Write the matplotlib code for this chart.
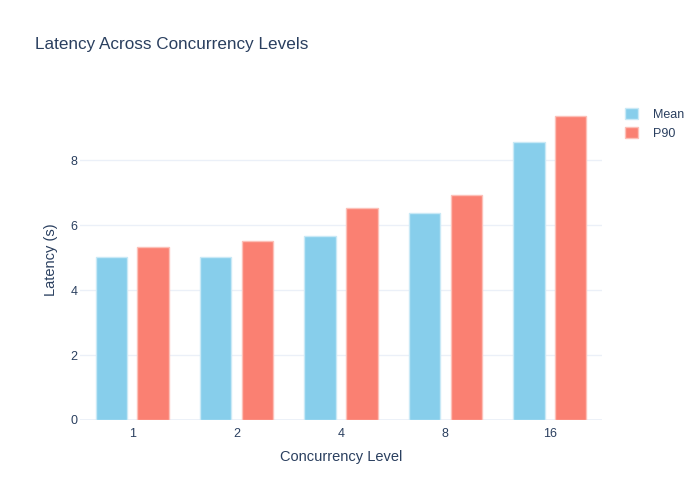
import matplotlib
matplotlib.use("Agg")
import matplotlib.pyplot as plt
import numpy as np

plt.rcParams['font.family'] = ['Liberation Sans', 'DejaVu Sans']

categories = ["1", "2", "4", "8", "16"]
mean_vals = [5.02, 5.03, 5.67, 6.38, 8.55]
p90_vals = [5.32, 5.50, 6.53, 6.93, 9.36]
series_names = ["Mean", "P90"]
y_ticks = [0, 2, 4, 6, 8]

text_color = "#2a3f5f"
grid_color = "#ebf0f8"
c_mean = "#87CEEB"
c_p90 = "#FA8072"
e_mean = "#c9e9f6"
e_p90 = "#fcc0b8"

fig = plt.figure(figsize=(7, 5), dpi=100)
ax = fig.add_axes([80/700, 80/500, 522/700, 320/500])

x = np.arange(len(categories))
w = 0.3
ax.bar(x - 0.2, mean_vals, width=w, color=c_mean, edgecolor=e_mean, linewidth=1, label=series_names[0], zorder=3)
ax.bar(x + 0.2, p90_vals, width=w, color=c_p90, edgecolor=e_p90, linewidth=1, label=series_names[1], zorder=3)

ax.set_xlim(-0.5, len(categories) - 0.5)
ax.set_ylim(0, 9.855)
ax.set_xticks(x)
ax.set_xticklabels(categories)
ax.set_yticks(y_ticks)
ax.grid(axis='y', color=grid_color, linewidth=1, zorder=0)
ax.axhline(0, color=grid_color, linewidth=2, zorder=2)
for s in ax.spines.values():
    s.set_visible(False)
ax.tick_params(axis='both', length=0, colors=text_color, labelsize=9)
ax.tick_params(axis='x', pad=6)
ax.tick_params(axis='y', pad=2)

ax.set_xlabel("Concurrency Level", fontsize=10.5, color=text_color, labelpad=7)
ax.set_ylabel("Latency (s)", fontsize=10.5, color=text_color, labelpad=9)

fig.text(35/700, 1 - 45/500, "Latency Across Concurrency Levels", fontsize=12.3,
         color=text_color, va='center', ha='left')

leg = ax.legend(loc='upper left', bbox_to_anchor=(1.035, 0.99), frameon=False,
                fontsize=9, labelcolor=text_color, handlelength=1.0, handleheight=1.0,
                handletextpad=1.2, borderaxespad=0, labelspacing=0.45)

fig.savefig("out.png", dpi=100)
